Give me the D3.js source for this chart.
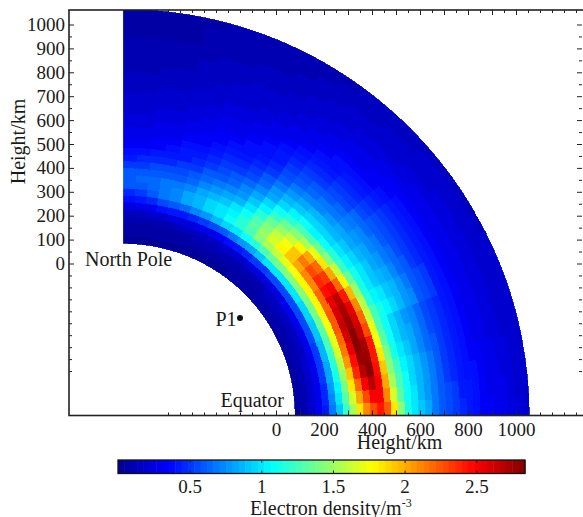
<!DOCTYPE html>
<html>
<head>
<meta charset="utf-8">
<script src="https://cdn.jsdelivr.net/npm/d3@7"></script>
<style>
html, body { margin: 0; padding: 0; background: #fff; overflow: hidden; }
text { font-family: "Liberation Serif", serif; fill: #1a1a1a; }
</style>
</head>
<body>
<svg id="chart" width="583" height="517"></svg>
<script>
// tick labels and marks, all in km
var yLabelled = [0, 100, 200, 300, 400, 500, 600, 700, 800, 900, 1000];
var xLabelled = [0, 200, 400, 600, 800, 1000];
var xMajor = [0, 100, 200, 300, 400, 500, 600, 700, 800, 900, 1000];
var yMinor = [-450, -400, -350, -300, -250, -200, -150, -100, -50, 50, 150, 250, 350, 450, 550, 650, 750, 850, 950];
var xMinor = [-450, -400, -350, -300, -250, -200, -150, -100, -50, 50, 150, 250, 350, 450, 550, 650, 750, 850, 950, 1050, 1100, 1150, 1200, 1250];
var colorTicks = [0.5, 1, 1.5, 2, 2.5];

// grid of the density plot
var latEdges = [0, 3, 6, 9, 12, 15, 18, 21, 24, 27, 30, 33, 36, 39, 42, 45, 48, 51, 54, 57, 60, 63, 66, 69, 72, 75, 78, 81, 84, 87, 90];
var heightEdges = [80, 108.7, 137.4, 166, 194.7, 223.4, 252.1, 280.8, 309.4, 338.1, 366.8, 395.5, 424.1, 452.8, 481.5, 510.2, 538.9, 567.5, 596.2, 624.9, 653.6, 682.2, 710.9, 739.6, 768.3, 797, 825.6, 854.3, 883, 911.7, 940.3, 969, 997.7, 1026.4, 1055];

// electron density, one row per latitude cell (equator first), heights going up
var density = [
[.08,.13,.20,.27,.42,.68,.92,1.20,1.55,1.85,2.10,2.28,2.40,2.25,1.85,1.42,1.15,1.00,.90,.80,.70,.62,.55,.50,.45,.41,.38,.35,.32,.30,.28,.25,.23,.21],
[.08,.13,.19,.28,.45,.72,1.00,1.30,1.68,2.00,2.30,2.52,2.50,2.10,1.68,1.32,1.10,.98,.88,.78,.69,.61,.54,.49,.44,.40,.37,.34,.31,.29,.27,.24,.22,.20],
[.08,.12,.19,.28,.47,.76,1.06,1.40,1.82,2.20,2.52,2.70,2.50,2.00,1.55,1.25,1.07,.96,.86,.77,.68,.60,.53,.48,.43,.39,.36,.33,.30,.28,.26,.24,.22,.20],
[.07,.12,.18,.29,.49,.80,1.12,1.50,1.95,2.38,2.70,2.80,2.48,1.92,1.45,1.20,1.04,.94,.85,.76,.67,.59,.52,.47,.42,.38,.35,.32,.29,.27,.25,.23,.21,.19],
[.07,.12,.18,.29,.50,.83,1.16,1.58,2.05,2.48,2.78,2.78,2.44,1.85,1.38,1.15,1.00,.91,.82,.74,.65,.58,.51,.46,.41,.37,.33,.30,.28,.26,.24,.22,.20,.18],
[.07,.12,.18,.30,.52,.85,1.20,1.65,2.15,2.55,2.80,2.72,2.40,1.75,1.30,1.10,.97,.88,.80,.72,.64,.57,.50,.45,.40,.36,.32,.29,.27,.25,.23,.21,.20,.18],
[.07,.11,.17,.30,.53,.88,1.26,1.70,2.20,2.60,2.80,2.66,2.30,1.70,1.28,1.08,.96,.87,.79,.71,.63,.56,.50,.45,.40,.36,.32,.29,.27,.25,.23,.21,.19,.18],
[.07,.11,.17,.29,.54,.90,1.30,1.74,2.22,2.62,2.78,2.60,2.20,1.62,1.26,1.12,1.04,.95,.87,.79,.71,.60,.54,.49,.44,.39,.35,.31,.28,.26,.24,.22,.20,.18],
[.06,.11,.16,.29,.54,.92,1.34,1.76,2.22,2.60,2.74,2.54,2.10,1.56,1.18,1.06,1.00,.93,.85,.77,.70,.60,.54,.49,.44,.39,.35,.31,.28,.26,.24,.22,.20,.18],
[.06,.10,.16,.28,.55,.94,1.38,1.78,2.20,2.54,2.68,2.44,1.98,1.50,1.14,1.00,.92,.86,.80,.72,.65,.59,.53,.48,.43,.39,.35,.31,.28,.26,.24,.22,.19,.17],
[.06,.10,.16,.28,.55,.96,1.40,1.80,2.18,2.46,2.50,2.20,1.78,1.36,1.12,.98,.90,.84,.78,.70,.63,.57,.52,.47,.42,.38,.34,.30,.28,.25,.23,.21,.19,.17],
[.06,.10,.15,.27,.55,.98,1.42,1.80,2.12,2.38,2.32,2.02,1.60,1.24,1.04,.94,.87,.81,.75,.68,.62,.56,.50,.46,.41,.37,.33,.30,.27,.25,.23,.21,.19,.17],
[.06,.09,.15,.26,.55,1.00,1.42,1.78,2.10,2.28,2.18,1.86,1.46,1.16,1.00,.90,.84,.79,.72,.66,.60,.54,.49,.45,.40,.36,.33,.29,.27,.24,.22,.20,.19,.16],
[.05,.09,.14,.25,.55,1.00,1.42,1.76,2.02,2.14,2.00,1.70,1.36,1.10,.96,.87,.80,.75,.70,.63,.57,.51,.47,.43,.39,.35,.32,.29,.26,.24,.22,.20,.18,.16],
[.05,.08,.13,.24,.55,1.00,1.40,1.72,1.94,1.95,1.80,1.54,1.28,1.06,.94,.85,.76,.70,.63,.57,.51,.46,.43,.39,.35,.32,.29,.27,.24,.22,.20,.18,.17,.15],
[.05,.08,.13,.24,.53,.98,1.36,1.64,1.80,1.76,1.64,1.46,1.26,1.10,.96,.85,.75,.67,.61,.55,.49,.45,.41,.37,.34,.31,.29,.26,.24,.22,.20,.18,.16,.15],
[.05,.08,.12,.23,.50,.92,1.28,1.54,1.66,1.60,1.48,1.34,1.18,1.04,.92,.82,.72,.64,.59,.53,.47,.43,.39,.36,.33,.30,.28,.25,.23,.21,.19,.17,.16,.14],
[.05,.07,.12,.22,.46,.84,1.18,1.42,1.48,1.44,1.34,1.22,1.08,.96,.86,.76,.67,.60,.55,.50,.45,.41,.37,.34,.31,.28,.26,.24,.22,.20,.18,.16,.15,.14],
[.04,.07,.11,.20,.42,.76,1.08,1.28,1.32,1.26,1.16,1.05,.94,.84,.76,.68,.61,.55,.50,.46,.41,.37,.34,.31,.29,.26,.24,.22,.20,.18,.17,.15,.14,.13],
[.04,.06,.10,.19,.38,.70,1.02,1.18,1.18,1.10,1.00,.90,.80,.72,.65,.58,.52,.47,.43,.40,.36,.33,.30,.28,.26,.24,.22,.20,.18,.17,.15,.14,.13,.12],
[.04,.06,.10,.17,.34,.62,.94,1.10,1.06,.98,.88,.79,.71,.63,.57,.51,.46,.42,.39,.36,.33,.30,.28,.26,.24,.22,.20,.18,.17,.15,.14,.13,.12,.11],
[.04,.06,.09,.16,.30,.56,.86,1.02,1.00,.93,.83,.74,.66,.59,.53,.48,.43,.39,.36,.33,.30,.28,.26,.24,.22,.20,.19,.17,.16,.14,.13,.12,.11,.10],
[.03,.05,.09,.15,.28,.50,.78,.95,.95,.88,.78,.70,.62,.55,.50,.45,.40,.37,.34,.31,.28,.26,.24,.22,.21,.19,.18,.16,.15,.14,.12,.11,.10,.10],
[.03,.05,.08,.15,.26,.46,.72,.88,.88,.82,.73,.65,.58,.52,.47,.42,.38,.35,.32,.29,.27,.25,.23,.21,.20,.18,.17,.15,.14,.13,.12,.11,.10,.09],
[.03,.05,.08,.14,.25,.43,.65,.82,.80,.75,.66,.59,.53,.47,.42,.38,.35,.32,.29,.27,.25,.23,.21,.20,.18,.17,.16,.15,.14,.13,.12,.11,.10,.09],
[.03,.05,.08,.13,.23,.40,.60,.75,.74,.70,.62,.55,.50,.44,.40,.36,.33,.30,.28,.26,.24,.22,.20,.19,.17,.16,.15,.14,.13,.12,.11,.10,.09,.08],
[.03,.05,.07,.12,.21,.36,.54,.68,.70,.68,.61,.54,.48,.42,.38,.34,.31,.28,.26,.24,.22,.20,.19,.17,.16,.15,.13,.12,.10,.09,.08,.07,.06,.06],
[.03,.05,.07,.11,.19,.31,.46,.58,.66,.66,.60,.54,.46,.40,.35,.32,.29,.27,.25,.23,.21,.19,.18,.16,.15,.14,.12,.11,.10,.09,.07,.06,.05,.05],
[.03,.05,.07,.10,.17,.28,.40,.52,.62,.64,.60,.53,.45,.39,.34,.31,.28,.26,.24,.22,.20,.19,.17,.16,.14,.13,.12,.11,.10,.09,.07,.06,.05,.05],
[.03,.05,.07,.10,.16,.25,.36,.48,.58,.62,.60,.52,.44,.38,.33,.30,.27,.25,.23,.21,.20,.18,.17,.15,.14,.13,.12,.11,.10,.09,.08,.06,.05,.05]
];

// the point marked P1, height (km) on both axes
var p1 = {x: -150, y: -228};

var svg = d3.select("#chart");
var axisColor = "#222";

var xScale = d3.scaleLinear().domain([0, 1000]).range([276, 516]);
var yScale = d3.scaleLinear().domain([0, 1000]).range([263.5, 24.5]);

var frame = {left: 69, right: 582, top: 10, bottom: 415.5};
var earth = xScale(-637);   // centre of the quarter circle, on screen
var rScale = d3.scaleLinear().domain([-637, 1055]).range([0, 406]);

// jet, cut in 64 levels like the colorbar
var jet = d3.scaleLinear()
	.domain([0, 0.125, 0.375, 0.625, 0.875, 1])
	.range(["#00008f", "#0000ff", "#00ffff", "#ffff00", "#ff0000", "#800000"]);
var levels = d3.range(64).map(function(i) { return jet((i + 0.5) / 64); });
var color = d3.scaleQuantize().domain([0, 2.84]).range(levels);

// soften the cells a bit, the reference is a resampled image
var blur = svg.append("defs").append("filter").attr("id", "soft")
	.attr("x", "-2%").attr("y", "-2%").attr("width", "104%").attr("height", "104%");
blur.append("feGaussianBlur").attr("stdDeviation", 0.6);

svg.select("defs").append("clipPath").attr("id", "plotClip")
	.append("rect")
	.attr("x", earth).attr("y", frame.top)
	.attr("width", 420).attr("height", frame.bottom - frame.top);

// density cells
var arc = d3.arc();
var cells = [];
density.forEach(function(row, i) {
	row.forEach(function(v, j) {
		cells.push({lat0: latEdges[i], lat1: latEdges[i + 1], h0: heightEdges[j], h1: heightEdges[j + 1], v: v});
	});
});

svg.append("g")
	.attr("clip-path", "url(#plotClip)")
	.append("g")
	.attr("filter", "url(#soft)")
	.attr("transform", "translate(" + earth + "," + frame.bottom + ")")
	.selectAll("path")
	.data(cells)
	.enter().append("path")
	.attr("d", function(d) {
		return arc({
			innerRadius: rScale(d.h0),
			outerRadius: rScale(d.h1),
			startAngle: (90 - d.lat1) * Math.PI / 180,
			endAngle: (90 - d.lat0) * Math.PI / 180
		});
	})
	.attr("fill", function(d) { return color(d.v); })
	.attr("stroke", function(d) { return color(d.v); })
	.attr("stroke-width", 0.8)
	.attr("shape-rendering", "crispEdges");

function styleAxis(g) {
	g.selectAll("line").attr("stroke", axisColor).attr("stroke-width", 1);
	g.selectAll("text").style("font-size", "19px");
}

function frameAxis(maker, scale, values, size, tx, ty, fmt, pad) {
	var axis = maker(scale).tickValues(values).tickSizeInner(-size).tickSizeOuter(0).tickPadding(pad || 4);
	axis.tickFormat(fmt || "");
	var g = svg.append("g").attr("transform", "translate(" + tx + "," + ty + ")").call(axis);
	g.select(".domain").remove();
	styleAxis(g);
	return g;
}

// frame lines
svg.append("rect")
	.attr("x", frame.left).attr("y", frame.top)
	.attr("width", frame.right - frame.left + 3).attr("height", frame.bottom - frame.top)
	.attr("fill", "none").attr("stroke", axisColor).attr("stroke-width", 1.6);

var yMajor = yLabelled;
frameAxis(d3.axisLeft, yScale, yMajor, 5, frame.left, 0, function(d) { return d; }, 4);
frameAxis(d3.axisLeft, yScale, yMinor, 3, frame.left, 0);
frameAxis(d3.axisRight, yScale, yMajor, 5, frame.right, 0);
frameAxis(d3.axisRight, yScale, yMinor, 3, frame.right, 0);

frameAxis(d3.axisBottom, xScale, xMajor, 5, 0, frame.bottom, function(d) { return xLabelled.indexOf(d) >= 0 ? d : ""; }, 7);
frameAxis(d3.axisBottom, xScale, xMinor, 3, 0, frame.bottom);
frameAxis(d3.axisTop, xScale, xMajor, 5, 0, frame.top);
frameAxis(d3.axisTop, xScale, xMinor, 3, 0, frame.top);

// colorbar
var cbScale = d3.scaleLinear().domain([0, 2.84]).range([118, 525]);
var cbTop = 460, cbBottom = 473.5;

svg.append("g").selectAll("rect")
	.data(levels)
	.enter().append("rect")
	.attr("x", function(d, i) { return cbScale(2.84 * i / 64); })
	.attr("y", cbTop)
	.attr("width", cbScale(2.84 / 64) - cbScale(0) + 0.5)
	.attr("height", cbBottom - cbTop)
	.attr("fill", function(d) { return d; });

svg.append("rect")
	.attr("x", 118).attr("y", cbTop)
	.attr("width", 407).attr("height", cbBottom - cbTop)
	.attr("fill", "none").attr("stroke", "#111").attr("stroke-width", 1.3);

frameAxis(d3.axisBottom, cbScale, colorTicks, 3, 0, cbBottom, function(d) { return d; }, 6);
frameAxis(d3.axisTop, cbScale, colorTicks, 3, 0, cbTop);

// texts
function label(txt, x, y, anchor) {
	return svg.append("text")
		.attr("x", x).attr("y", y)
		.attr("text-anchor", anchor || "start")
		.style("font-size", "20px")
		.text(txt);
}

label("North Pole", 85, 266);
label("Equator", 220.5, 406.5);
label("P1", 215.5, 326);
label("Height/km", 399.5, 449, "middle");

svg.append("text")
	.attr("transform", "translate(25,141.5) rotate(-90)")
	.attr("text-anchor", "middle")
	.style("font-size", "20px")
	.text("Height/km");

var cbTitle = label("Electron density/m", 250, 515);
cbTitle.append("tspan").attr("dy", -8).style("font-size", "12px").text("-3");

svg.append("circle")
	.attr("cx", xScale(p1.x))
	.attr("cy", yScale(p1.y))
	.attr("r", 3)
	.attr("fill", "#111");
</script>
</body>
</html>
